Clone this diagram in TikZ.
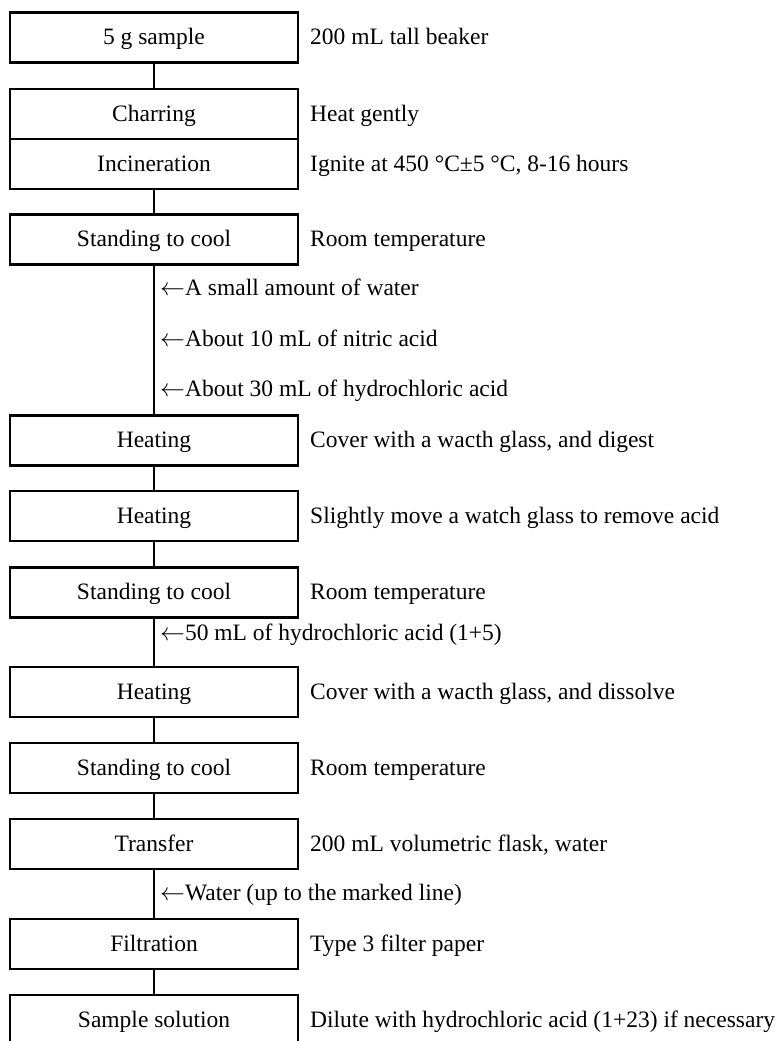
\documentclass[tikz,border=0pt]{standalone}
\usepackage{fontspec}
\setmainfont{Liberation Serif}
\usetikzlibrary{positioning}
\newcommand{\flowfont}{\fontsize{23.5}{28}\selectfont}

\begin{document}
\begin{tikzpicture}[x=1pt,y=-1pt,
  every node/.style={font=\flowfont, text height=15.5pt, text depth=1pt},
  box/.style={draw, line width=2.4pt, minimum width=288pt, minimum height=50pt, inner sep=0pt, outer sep=0pt},
  note/.style={anchor=west, inner sep=0pt},
  reagent/.style={anchor=west, inner sep=0pt},
  link/.style={line width=2.4pt}]
\useasboundingbox (0,0) rectangle (784,1041);
%\draw[help lines] (0,0) grid[step=50] (784,1041);
% main steps
\node[box] (sample) at (154,37.5) {5 g sample};
\node[box] (char) at (154,114) {Charring};
\node[box] (ash) at (154,164) {Incineration};
\node[box] (cool1) at (154,239.5) {Standing to cool};
\node[box] (heat1) at (154,440.5) {Heating};
\node[box] (heat2) at (154,516) {Heating};
\node[box] (cool2) at (154,592.5) {Standing to cool};
\node[box] (heat3) at (154,692) {Heating};
\node[box] (cool3) at (154,768) {Standing to cool};
\node[box] (move) at (154,844) {Transfer};
\node[box] (filt) at (154,944) {Filtration};
\node[box] (soln) at (154,1020) {Sample solution};
% connecting lines
\draw[link] (sample) -- (char);
\draw[link] (ash) -- (cool1);
\draw[link] (cool1) -- (heat1);
\draw[link] (heat1) -- (heat2);
\draw[link] (heat2) -- (cool2);
\draw[link] (cool2) -- (heat3);
\draw[link] (heat3) -- (cool3);
\draw[link] (cool3) -- (move);
\draw[link] (move) -- (filt);
\draw[link] (filt) -- (soln);
% notes on the right
\node[note, right=12pt of sample] (n1) {200 mL tall beaker};
\node[note, right=12pt of char] (n2) {Heat gently};
\node[note, right=12pt of ash] (n3) {Ignite at 450 °C±5 °C, 8-16 hours};
\node[note, right=12pt of cool1] (n4) {Room temperature};
\node[note, right=12pt of heat1] (n5) {Cover with a wacth glass, and digest};
\node[note, right=12pt of heat2] (n6) {Slightly move a watch glass to remove acid};
\node[note, right=12pt of cool2] (n7) {Room temperature};
\node[note, right=12pt of heat3] (n8) {Cover with a wacth glass, and dissolve};
\node[note, right=12pt of cool3] (n9) {Room temperature};
\node[note, right=12pt of move] (n10) {200 mL volumetric flask, water};
\node[note, right=12pt of filt] (n11) {Type 3 filter paper};
\node[note, right=12pt of soln] (n12) {Dilute with hydrochloric acid (1+23) if necessary};
% reagents added
\node[reagent] (r1) at (160,288) {$\leftarrow$A small amount of water};
\node[reagent] (r2) at (160,339) {$\leftarrow$About 10 mL of nitric acid};
\node[reagent] (r3) at (160,389) {$\leftarrow$About 30 mL of hydrochloric acid};
\node[reagent] (r4) at (160,633) {$\leftarrow$50 mL of hydrochloric acid (1+5)};
\node[reagent] (r5) at (160,893) {$\leftarrow$Water (up to the marked line)};
\end{tikzpicture}
\end{document}
